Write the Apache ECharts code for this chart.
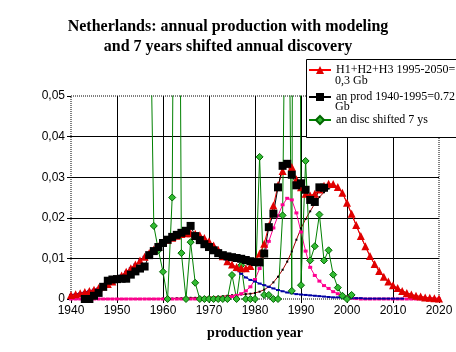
<!DOCTYPE html>
<html>
<head>
<meta charset="utf-8">
<script src="https://cdn.jsdelivr.net/npm/echarts@6/dist/echarts.min.js"></script>
<style>
  html, body { margin: 0; padding: 0; background: #fff; }
  #chart { width: 456px; height: 352px; }
</style>
</head>
<body>
<div id="chart"></div>
<script>
// model years 1940..2020
const modelStart = 1940;
// H1+H2+H3 sum (red triangles)
const modelSum = [
  0.001, 0.0012, 0.0014, 0.0017, 0.002, 0.0023, 0.0027, 0.0031, 0.0037, 0.0043,
  0.005, 0.0058, 0.0067, 0.0076, 0.0085, 0.0095, 0.0104, 0.0113, 0.0122, 0.013,
  0.0139, 0.0146, 0.0151, 0.0156, 0.016, 0.0162, 0.0162, 0.0161, 0.0157, 0.015,
  0.0142, 0.0132, 0.0121, 0.0105, 0.0093, 0.0085, 0.0079, 0.0076, 0.0076, 0.0081,
  0.0092, 0.0112, 0.0136, 0.018, 0.023, 0.028, 0.0315, 0.0333, 0.0325, 0.0295,
  0.0275, 0.0259, 0.0255, 0.0259, 0.027, 0.0279, 0.0284, 0.0283, 0.0276, 0.0262,
  0.0237, 0.021, 0.0182, 0.0155, 0.013, 0.0106, 0.0086, 0.0069, 0.0055, 0.0043,
  0.0034, 0.0027, 0.002, 0.0015, 0.0011, 0.0008, 0.0006, 0.0004, 0.0003, 0.0002,
  0.0001
];
// H1 (blue), 1940..2012
const h1 = [
  0.001, 0.0012, 0.0014, 0.0017, 0.002, 0.0023, 0.0027, 0.0031, 0.0037, 0.0043,
  0.005, 0.0058, 0.0067, 0.0076, 0.0085, 0.0095, 0.0104, 0.0113, 0.0122, 0.013,
  0.0138, 0.0145, 0.015, 0.0155, 0.0158, 0.016, 0.016, 0.0158, 0.0154, 0.0148,
  0.014, 0.0129, 0.0116, 0.0102, 0.0089, 0.0082, 0.0071, 0.0062, 0.0053, 0.0047,
  0.0043, 0.0038, 0.0034, 0.003, 0.0026, 0.0022, 0.0019, 0.0016, 0.0014, 0.0012,
  0.0011, 0.001, 0.0009, 0.0008, 0.0007, 0.0006, 0.0005, 0.0004, 0.0004, 0.0003,
  0.0003, 0.0002, 0.0002, 0.0002, 0.0001, 0.0001, 0.0001, 0.0001, 0.0001, 0.0001,
  0.0001, 0.0001, 0.0001
];
// H2 (pink), 1940..2020
const h2 = [
  0, 0, 0, 0, 0, 0, 0, 0, 0, 0,
  0, 0, 0, 0, 0, 0, 0, 0, 0, 0,
  0, 0, 0, 0, 0, 0, 0, 0, 0, 0,
  0.0001, 0.0001, 0.0002, 0.0003, 0.0004, 0.0006, 0.0009, 0.0013, 0.002, 0.003,
  0.0048, 0.0075, 0.0108, 0.0142, 0.0175, 0.0205, 0.0232, 0.0248, 0.0244, 0.0212,
  0.0165, 0.0118, 0.0078, 0.0058, 0.0044, 0.0033, 0.0026, 0.0018, 0.0013, 0.0008,
  0.0005, 0.0002, 0.0001, 0, 0, 0, 0, 0, 0, 0,
  0, 0, 0, 0, 0, 0, 0, 0, 0, 0,
  0
];
// H3 (dark red), 1940..2020
const h3 = [
  0, 0, 0, 0, 0, 0, 0, 0, 0, 0,
  0, 0, 0, 0, 0, 0, 0, 0, 0, 0,
  0.0001, 0.0001, 0.0001, 0.0002, 0.0002, 0.0002, 0.0003, 0.0003, 0.0004, 0.0004,
  0.0005, 0.0005, 0.0006, 0.0007, 0.0008, 0.0009, 0.001, 0.0011, 0.0012, 0.0013,
  0.0015, 0.0018, 0.0023, 0.003, 0.0041, 0.0055, 0.0072, 0.0092, 0.0117, 0.0146,
  0.0174, 0.0197, 0.0216, 0.0235, 0.0251, 0.0263, 0.0272, 0.0277, 0.0274, 0.0261,
  0.0236, 0.0209, 0.0181, 0.0154, 0.0129, 0.0105, 0.0085, 0.0068, 0.0054, 0.0042,
  0.0033, 0.0026, 0.002, 0.0015, 0.0011, 0.0008, 0.0006, 0.0004, 0.0003, 0.0002,
  0.0001
];
// annual production, 1943..1995
const prodStart = 1943;
const prod = [
  0, 0, 0.0008, 0.0015, 0.003, 0.0045, 0.0048,
  0.0049, 0.005, 0.005, 0.006, 0.0068, 0.0075, 0.008, 0.0108, 0.0118, 0.0128,
  0.0138, 0.0146, 0.0153, 0.0158, 0.0163, 0.0168, 0.018, 0.0155, 0.0145, 0.0135,
  0.0128, 0.012, 0.0113, 0.0108, 0.0105, 0.0103, 0.0101, 0.0099, 0.0096, 0.0093,
  0.0091, 0.009, 0.0112, 0.0177, 0.021, 0.0275, 0.0328, 0.0333, 0.0306, 0.028,
  0.0285, 0.0269, 0.0244, 0.0239, 0.0275, 0.0274
];
// annual discovery shifted 7 years, 1957..2001
const discStart = 1957;
const disc = [
  0.09, 0.018, 0.012,
  0.0067, 0, 0.025, 0.22, 0.0113, 0, 0.014, 0.004, 0, 0,
  0, 0, 0, 0, 0, 0.0059, 0, 0.0083, 0, 0,
  0, 0.035, 0.001, 0.001, 0, 0, 0.0206, 0.125, 0.002, 0.44,
  0.0034, 0.034, 0.0095, 0.013, 0.0208, 0.0095, 0.012, 0.006, 0.0028, 0.0008,
  0, 0.001
];
const xTicks = [1940, 2020, 10];
const yTicks = [0, 0.05, 0.01];

const sumName = 'H1+H2+H3 1995-2050=';
const prodName = 'an prod 1940-1995=0.72';
const discName = 'an disc shifted 7 ys';

const pairs = (start, arr) => arr.map((v, i) => [start + i, v]);

const chart = echarts.init(document.getElementById('chart'));
const serif = 'Liberation Serif';
const sans = 'Liberation Sans';

const legendBase = {
  left: 308,
  z: 6,
  itemWidth: 22,
  itemHeight: 10,
  itemGap: 0,
  padding: 0,
  textStyle: { fontFamily: serif, fontSize: 12, color: '#000', lineHeight: 12 },
  selectedMode: false
};

chart.setOption({
  animation: false,
  backgroundColor: '#fff',
  title: {
    text: 'Netherlands: annual production with modeling\nand 7 years shifted annual discovery',
    left: 'center',
    top: 12,
    textStyle: { fontFamily: serif, fontSize: 16, fontWeight: 'bold', color: '#000', lineHeight: 20 }
  },
  legend: [
    Object.assign({}, legendBase, { top: 64, data: [sumName] }),
    Object.assign({}, legendBase, { top: 91, data: [prodName] }),
    Object.assign({}, legendBase, { top: 114, data: [discName] })
  ],
  graphic: [
    { type: 'rect', left: 306, top: 59, z: 3, shape: { width: 160, height: 78 },
      style: { fill: '#fff', stroke: '#000', lineWidth: 1 } },
    { type: 'text', left: 335, top: 75, z: 6, style: { text: '0,3 Gb', font: '12px ' + serif, fill: '#000' } },
    { type: 'text', left: 335, top: 101, z: 6, style: { text: 'Gb', font: '12px ' + serif, fill: '#000' } }
  ],
  grid: {
    left: 71, right: 17, top: 96, bottom: 53,
    show: true, borderColor: '#000', borderWidth: 1, borderType: 'dotted'
  },
  xAxis: {
    type: 'value', min: xTicks[0], max: xTicks[1], interval: xTicks[2],
    name: 'production year', nameLocation: 'middle', nameGap: 27,
    nameTextStyle: { fontFamily: serif, fontSize: 14, fontWeight: 'bold', color: '#000' },
    axisLine: { show: false },
    axisTick: { show: true, length: 4, lineStyle: { color: '#000' } },
    axisLabel: { fontFamily: sans, fontSize: 12, color: '#000', margin: 6, formatter: v => String(v) },
    splitLine: { show: true, showMinLine: false, showMaxLine: false, lineStyle: { color: '#000', width: 1 } }
  },
  yAxis: {
    type: 'value', min: yTicks[0], max: yTicks[1], interval: yTicks[2],
    axisLine: { show: false },
    axisTick: { show: true, length: 4, lineStyle: { color: '#000' } },
    axisLabel: { fontFamily: sans, fontSize: 12, color: '#000', margin: 6,
      formatter: v => v === 0 ? '0' : v.toFixed(2).replace('.', ',') },
    splitLine: { show: true, showMinLine: false, showMaxLine: false, lineStyle: { color: '#000', width: 1 } }
  },
  series: [
    { name: 'H3', type: 'line', data: pairs(modelStart, h3), symbol: 'rect', symbolSize: 2,
      lineStyle: { color: '#a00000', width: 1 }, itemStyle: { color: '#000' } },
    { name: 'H2', type: 'line', data: pairs(modelStart, h2), symbol: 'rect', symbolSize: [4, 3],
      lineStyle: { color: '#ff0090', width: 1 }, itemStyle: { color: '#ff0090' } },
    { name: 'H1', type: 'line', data: pairs(modelStart, h1), symbol: 'rect', symbolSize: [4, 2],
      lineStyle: { color: '#0000c0', width: 1 }, itemStyle: { color: '#0000a0' } },
    { name: discName, type: 'line', data: pairs(discStart, disc), symbol: 'diamond', symbolSize: 7,
      lineStyle: { color: '#008000', width: 1 }, itemStyle: { color: '#33bb33', borderColor: '#006600', borderWidth: 1 } },
    { name: sumName, type: 'line', data: pairs(modelStart, modelSum), symbol: 'triangle', symbolSize: 8,
      lineStyle: { color: '#ff0000', width: 1 }, itemStyle: { color: '#e00000' } },
    { name: prodName, type: 'line', data: pairs(prodStart, prod), symbol: 'rect', symbolSize: 8,
      lineStyle: { color: '#000', width: 1 }, itemStyle: { color: '#000' } }
  ]
});
</script>
</body>
</html>
